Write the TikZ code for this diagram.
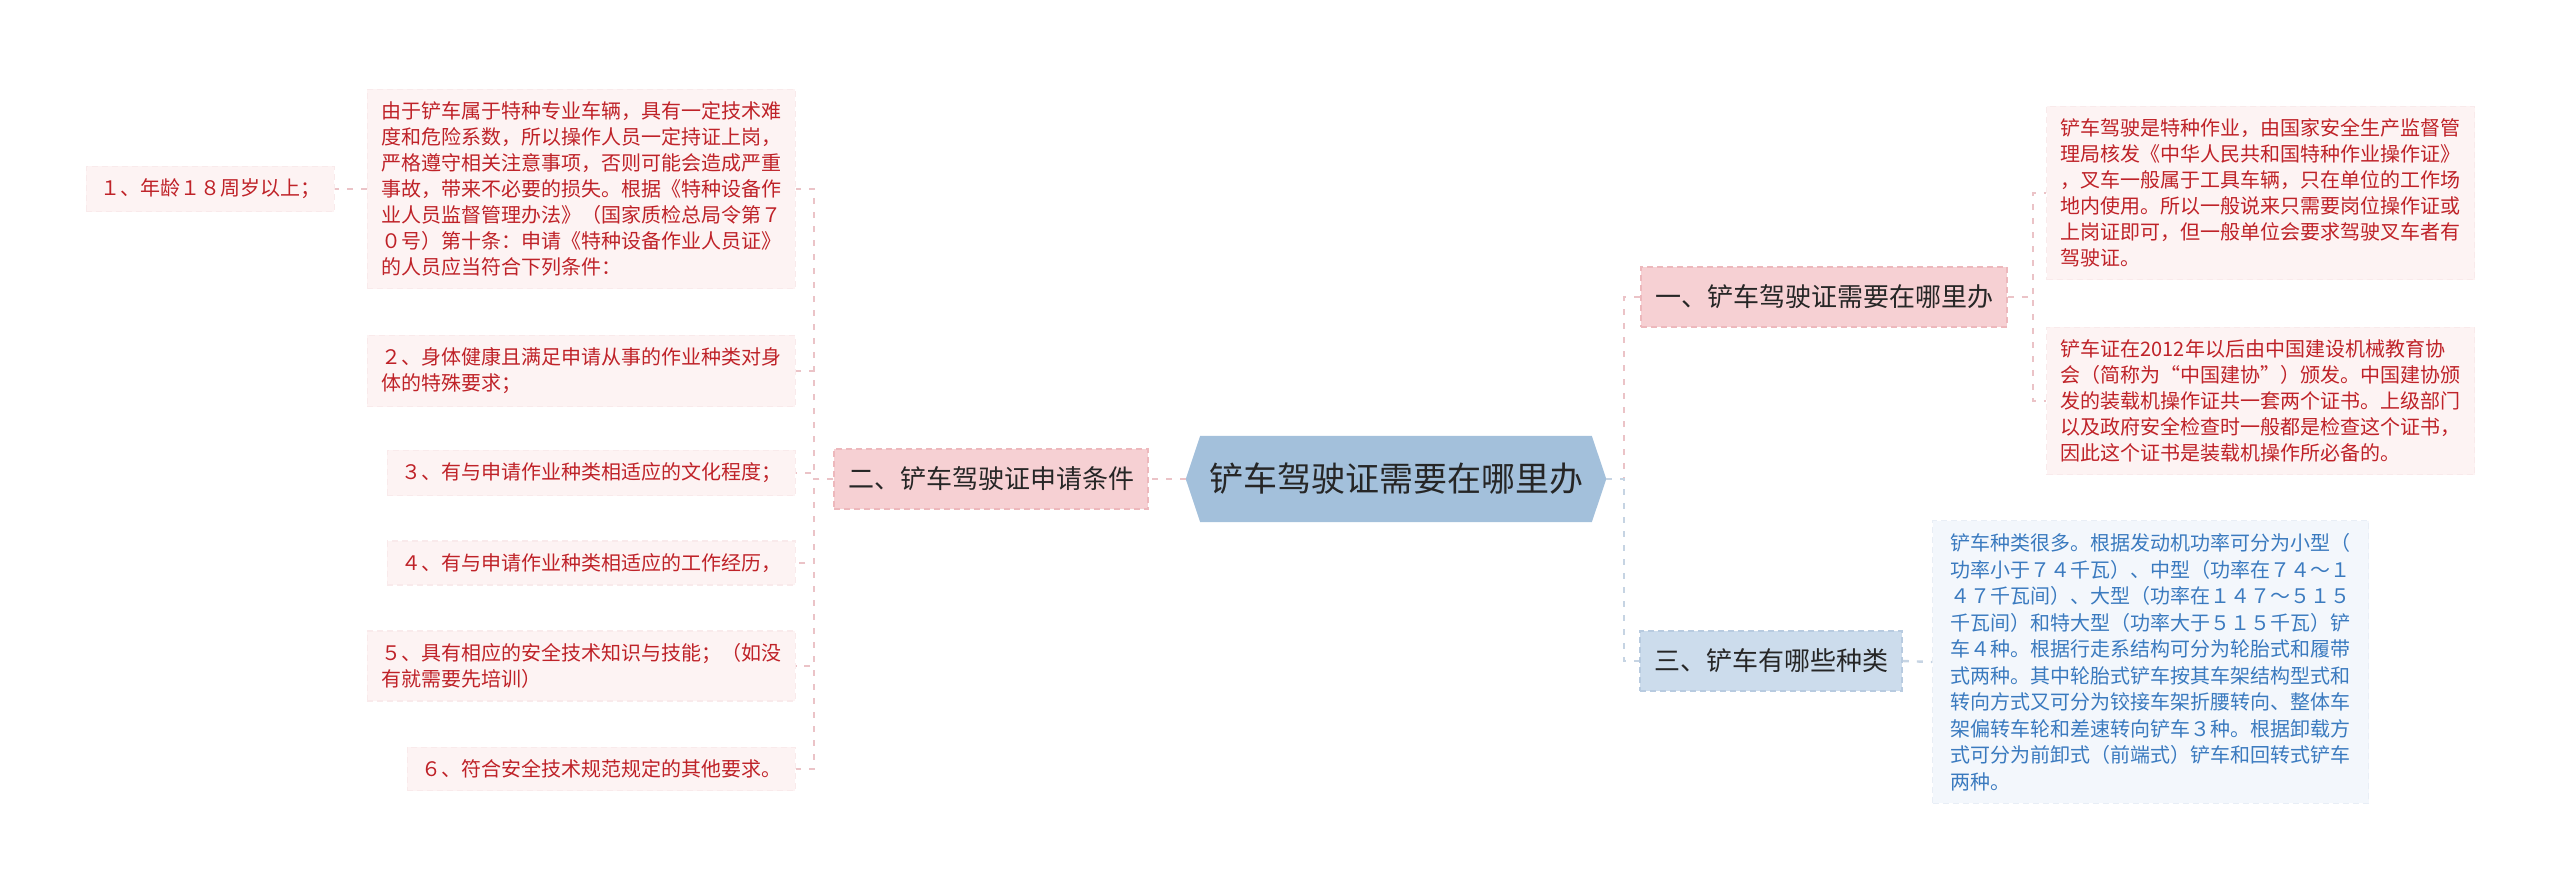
\documentclass[tikz,border=0pt]{standalone}
\usepackage{fontspec}
\setmainfont{Noto Sans CJK SC}
\usetikzlibrary{arrows.meta, positioning, shapes.symbols, calc}
\definecolor{ctext}{HTML}{262626}
\definecolor{chex}{HTML}{A3C0DB}
\definecolor{cpink}{HTML}{F6D0D3}
\definecolor{cpinkedge}{HTML}{EDB8BC}
\definecolor{cpinkline}{HTML}{EBC3C7}
\definecolor{cblue}{HTML}{CCDCEC}
\definecolor{cblueedge}{HTML}{B8CBE0}
\definecolor{cblueline}{HTML}{C6D4E3}
\definecolor{cleaf}{HTML}{FDF3F3}
\definecolor{cleafedge}{HTML}{F9EAEB}
\definecolor{cred}{HTML}{BF2228}
\definecolor{cbleaf}{HTML}{F3F7FC}
\definecolor{cbleafedge}{HTML}{E8EEF6}
\definecolor{cbtext}{HTML}{3A7ABF}
\tikzset{
  every picture/.style={line width=1.2pt},
  hexa/.style={signal, signal to=west and east, signal pointer angle=143, fill=chex, draw=chex,
    minimum width=209pt, minimum height=42pt, inner sep=0pt, font=\fontsize{17}{20}\selectfont, text=ctext},
  topic/.style={fill=c#1, draw=c#1edge, dash pattern=on 3pt off 2pt, line width=0.8pt,
    minimum height=30pt, inner xsep=7pt, inner ysep=0pt, font=\fontsize{13}{15}\selectfont, text=ctext},
  leaf/.style={fill=cleaf, draw=cleafedge, dash pattern=on 3pt off 2pt, line width=0.6pt, align=left,
    inner xsep=7pt, inner ysep=6.25pt, font=\fontsize{10}{13}\selectfont, text=cred},
  bleaf/.style={leaf, fill=cbleaf, draw=cbleafedge, text=cbtext, minimum width=218pt,
    font=\fontsize{10}{13.25}\selectfont},
  link/.style={draw=c#1line, dash pattern=on 3pt off 4pt, line width=1.2pt},
}
\begin{document}
\begin{tikzpicture}[x=0.5pt, y=-0.5pt]
  \useasboundingbox (0,0) rectangle (2560,889);
  % centre and the three topics
  \node[hexa] (root) at (1396,479) {铲车驾驶证需要在哪里办};
  \node[topic=pink] (cond) at (991,479) {二、铲车驾驶证申请条件};
  \node[topic=pink] (where) at (1824,297) {一、铲车驾驶证需要在哪里办};
  \node[topic=blue] (kinds) at (1771,661) {三、铲车有哪些种类};
  % conditions, left side
  \node[leaf, anchor=east] (intro) at (796,189) {由于铲车属于特种专业车辆，具有一定技术难\\度和危险系数，所以操作人员一定持证上岗，\\严格遵守相关注意事项，否则可能会造成严重\\事故，带来不必要的损失。根据《特种设备作\\业人员监督管理办法》（国家质检总局令第７\\０号）第十条：申请《特种设备作业人员证》\\的人员应当符合下列条件：};
  \node[leaf, anchor=east] (age) at (335,189) {１、年龄１８周岁以上；};
  \node[leaf, anchor=east] (health) at (796,371) {２、身体健康且满足申请从事的作业种类对身\\体的特殊要求；};
  \node[leaf, anchor=east] (edu) at (796,473) {３、有与申请作业种类相适应的文化程度；};
  \node[leaf, anchor=east] (work) at (796,563) {４、有与申请作业种类相适应的工作经历，};
  \node[leaf, anchor=east] (skill) at (796,666) {５、具有相应的安全技术知识与技能；（如没\\有就需要先培训）};
  \node[leaf, anchor=east] (other) at (796,769) {６、符合安全技术规范规定的其他要求。};
  % where to apply, right side
  \node[leaf, anchor=west] (whereA) at (2046,193) {铲车驾驶是特种作业，由国家安全生产监督管\\理局核发《中华人民共和国特种作业操作证》\\，叉车一般属于工具车辆，只在单位的工作场\\地内使用。所以一般说来只需要岗位操作证或\\上岗证即可，但一般单位会要求驾驶叉车者有\\驾驶证。};
  \node[leaf, anchor=west] (whereB) at (2046,401) {铲车证在2012年以后由中国建设机械教育协\\会（简称为“中国建协”）颁发。中国建协颁\\发的装载机操作证共一套两个证书。上级部门\\以及政府安全检查时一般都是检查这个证书，\\因此这个证书是装载机操作所必备的。};
  \node[bleaf, anchor=west] (kindsA) at (1932,662) {铲车种类很多。根据发动机功率可分为小型（\\功率小于７４千瓦）、中型（功率在７４～１\\４７千瓦间）、大型（功率在１４７～５１５\\千瓦间）和特大型（功率大于５１５千瓦）铲\\车４种。根据行走系结构可分为轮胎式和履带\\式两种。其中轮胎式铲车按其车架结构型式和\\转向方式又可分为铰接车架折腰转向、整体车\\架偏转车轮和差速转向铲车３种。根据卸载方\\式可分为前卸式（前端式）铲车和回转式铲车\\两种。};
  % connectors
  \draw[link=pink] (root.west) -- (cond.east);
  \foreach \n in {intro,health,edu,work,skill,other}
    \draw[link=pink] (cond.west) -- ++(-19,0) |- (\n.east);
  \draw[link=pink] (intro.west) -- (age.east);
  \draw[link=pink] (root.east) -- ++(18,0) |- (where.west);
  \draw[link=blue] (root.east) -- ++(18,0) |- (kinds.west);
  \foreach \n in {whereA,whereB}
    \draw[link=pink] (where.east) -- ++(25,0) |- (\n.west);
  \draw[link=blue] (kinds.east) -- (kindsA.west);
\end{tikzpicture}
\end{document}
